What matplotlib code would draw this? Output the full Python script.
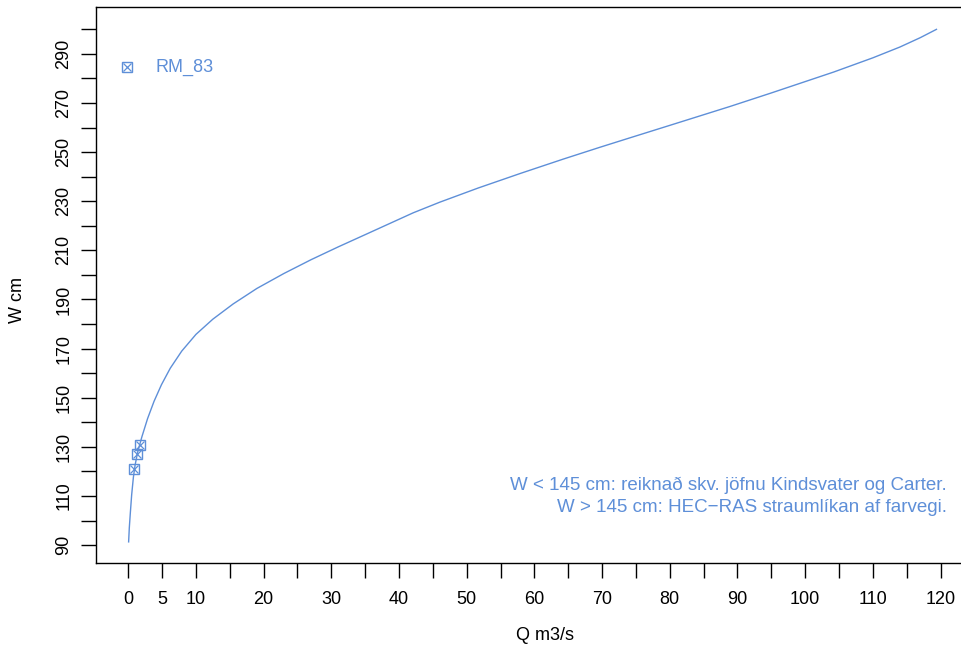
"""Rating curve W (cm) against Q (m3/s) for RM_83, R-style base plot look."""

import matplotlib

matplotlib.use("Agg")

import matplotlib.pyplot as plt

plt.rcParams["font.family"] = ["Liberation Sans", "DejaVu Sans"]

# --- data ------------------------------------------------------------------
# rating curve
Q_CURVE = [0.05, 0.15, 0.3, 0.5, 0.75, 1.0, 1.4, 2.0, 2.85, 3.8, 4.9, 6.2,
           7.9, 10.0, 12.5, 15.5, 19.0, 23.0, 27.0, 31.0, 35.0, 42.1, 46.0,
           51.7, 58.0, 64.3, 69.7, 74.2, 80.0, 88.9, 95.0, 104.2, 110.0,
           114.0, 117.0, 119.4]
W_CURVE = [91.3, 97.0, 103.0, 110.5, 117.5, 122.5, 128.0, 134.0, 141.5,
           148.5, 155.3, 162.0, 169.0, 175.8, 182.0, 188.2, 194.5, 200.6,
           206.2, 211.4, 216.4, 225.3, 229.6, 235.4, 241.4, 247.2, 252.0,
           255.9, 260.9, 268.6, 274.1, 282.6, 288.4, 292.8, 296.6, 300.0]

# measurements RM_83
Q_MEAS = [0.9, 1.3, 1.8]
W_MEAS = [120.8, 127.1, 130.7]

X_TICKS = list(range(0, 121, 5))
X_LABELS = ["0", "5", "10", "20", "30", "40", "50", "60", "70", "80", "90",
            "100", "110", "120"]
Y_TICKS = list(range(90, 301, 10))
Y_LABELS = [str(v) for v in range(90, 300, 20)]

NOTE_1 = "W < 145 cm: reiknað skv. jöfnu Kindsvater og Carter."
NOTE_2 = "W > 145 cm: HEC\u2212RAS straumlíkan af farvegi."

BLUE = "#5e8fd8"
FS = 13


def _label_list(ticks, labels):
    shown = set(labels)
    return [str(t) if str(t) in shown else "" for t in ticks]


def _pch7(ax, x, y):
    # R's pch = 7: open square with a cross inside
    ax.plot(x, y, ls="none", marker="s", ms=7.0, mfc="none", mec=BLUE,
            mew=1.0)
    ax.plot(x, y, ls="none", marker="x", ms=5.5, mec=BLUE, mew=0.9)


def main() -> None:
    fig = plt.figure(figsize=(9.62, 6.56), dpi=100)
    ax = fig.add_axes([96 / 962, 93 / 656, 877 / 962, 556 / 656])

    ax.plot(Q_CURVE, W_CURVE, color=BLUE, lw=1.0)
    _pch7(ax, Q_MEAS, W_MEAS)

    ax.set_xlim(-4.77, 124.8)
    ax.set_ylim(82.7, 309.1)

    ax.set_xticks(X_TICKS)
    ax.set_xticklabels(_label_list(X_TICKS, X_LABELS))
    ax.set_yticks(Y_TICKS)
    ax.set_yticklabels(_label_list(Y_TICKS, Y_LABELS), rotation=90,
                       va="center")
    ax.tick_params(axis="x", length=11, width=1.0, pad=9, labelsize=FS)
    ax.tick_params(axis="y", length=11, width=1.0, pad=6, labelsize=FS)

    ax.spines["right"].set_visible(False)
    for sp in ("top", "bottom", "left"):
        ax.spines[sp].set_linewidth(1.0)

    # legend, drawn as in R's legend("topleft", pch = 7)
    _pch7(ax, [-0.15], [284.7])
    ax.text(4.0, 284.7, "RM_83", color=BLUE, fontsize=13, va="center",
            ha="left")

    ax.text(120.9, 114.4, NOTE_1, color=BLUE, fontsize=13.5, ha="right",
            va="center")
    ax.text(120.9, 105.5, NOTE_2, color=BLUE, fontsize=13.5, ha="right",
            va="center")

    fig.text(545 / 962, 1 - 636 / 656, "Q m3/s", fontsize=FS, ha="center",
             va="center")
    fig.text(18 / 962, 1 - 300 / 656, "W cm", fontsize=FS, ha="center",
             va="center", rotation=90)

    fig.savefig("out.png", dpi=100)


if __name__ == "__main__":
    main()
